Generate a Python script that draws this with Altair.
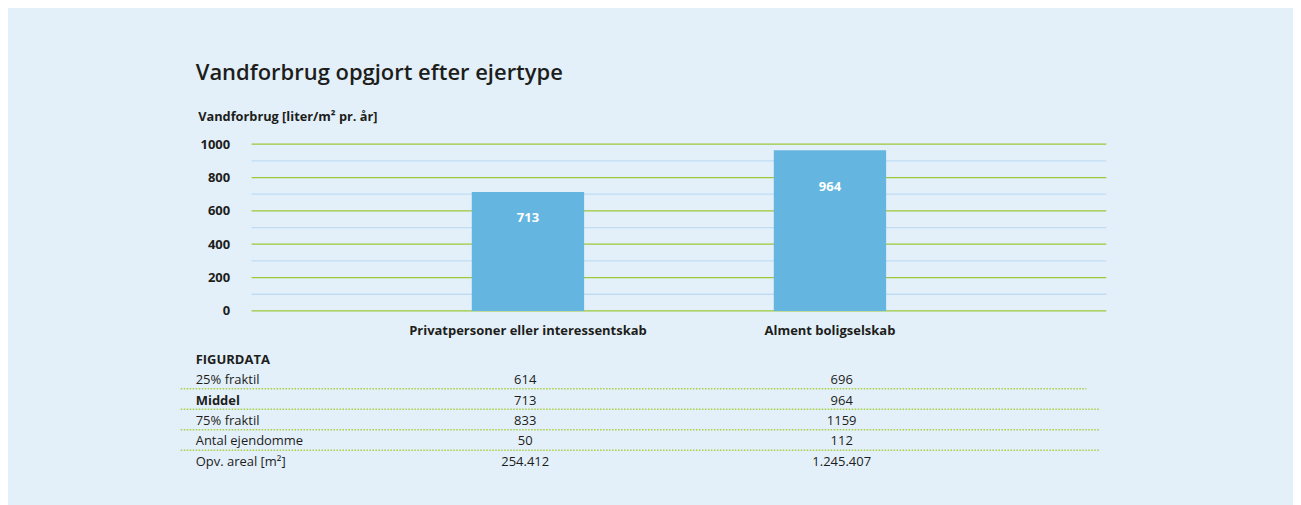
import altair as alt
import pandas as pd

# ---------------- data ----------------
categories = ["Privatpersoner eller interessentskab", "Alment boligselskab"]
middel = [713, 964]
y_ticks = [0, 200, 400, 600, 800, 1000]
grid_values = [0, 100, 200, 300, 400, 500, 600, 700, 800, 900, 1000]

table_rows = ["FIGURDATA", "25% fraktil", "Middel", "75% fraktil",
              "Antal ejendomme", "Opv. areal [m²]"]
col_privat = ["", "614", "713", "833", "50", "254.412"]
col_alment = ["", "696", "964", "1159", "112", "1.245.407"]
bold_rows = ["FIGURDATA", "Middel"]
rule_rows_short = ["25% fraktil"]
rule_rows_long = ["Middel", "75% fraktil", "Antal ejendomme"]

# ---------------- style ----------------
FONT = "Open Sans"
TXT = "#1d1d1b"
BG = "#e3f0f9"
BAR = "#64b6e1"
GREEN = "#9bc93a"
LIGHT = "#bfdcf3"
DOT = "#a6cf45"

bars_df = pd.DataFrame({"kategori": categories, "middel": middel})
grid_df = pd.DataFrame({"v": grid_values})

yscale = alt.Scale(domain=[0, 1000], nice=False, zero=True)
xscale = alt.Scale(type="band", domain=categories, paddingInner=0.628, paddingOuter=0.729)

y_axis = alt.Axis(values=y_ticks, format="d", grid=False, domain=False, ticks=False,
                  labelPadding=22, labelFont=FONT, labelFontSize=13, labelFontWeight="bold",
                  labelColor=TXT, title="Vandforbrug [liter/m² pr. år]", titleAngle=0,
                  titleAlign="left", titleBaseline="alphabetic", titleX=-54, titleY=-24,
                  titleFont=FONT, titleFontSize=12.8, titleFontWeight="bold", titleColor=TXT)
x_axis = alt.Axis(title=None, labelAngle=0, domain=False, ticks=False, labelPadding=24,
                  labelBaseline="alphabetic", labelFont=FONT, labelFontSize=13,
                  labelFontWeight="bold", labelColor=TXT, labelLimit=500)

grid = alt.Chart(grid_df).transform_calculate(
    kind="datum.v % 200 == 0 ? 'major' : 'minor'"
).mark_rule(strokeWidth=1.3).encode(
    y=alt.Y("v:Q", scale=yscale, axis=y_axis),
    color=alt.Color("kind:N", scale=alt.Scale(domain=["major", "minor"], range=[GREEN, LIGHT]),
                    legend=None),
)

bars = alt.Chart(bars_df).mark_bar(color=BAR).encode(
    x=alt.X("kategori:N", scale=xscale, axis=x_axis),
    y=alt.Y("middel:Q", scale=yscale, axis=y_axis),
)

bar_text = alt.Chart(bars_df).transform_calculate(
    pos="datum.middel * 0.745"
).mark_text(color="white", font=FONT, fontSize=13, fontWeight="bold",
            baseline="alphabetic", align="center").encode(
    x=alt.X("kategori:N", scale=xscale, axis=x_axis),
    y=alt.Y("pos:Q", scale=yscale, axis=y_axis),
    text=alt.Text("middel:Q"),
)

top = alt.layer(grid, bars, bar_text).properties(
    width=856, height=167,
    title=alt.TitleParams(text="Vandforbrug opgjort efter ejertype", anchor="start",
                          frame="group", dx=-56, offset=8, font=FONT, fontSize=22,
                          fontWeight=600, color=TXT, baseline="alphabetic"),
)

# ---------------- table ----------------
table_long = pd.DataFrame({
    "row": table_rows * 2,
    "col": [categories[0]] * len(table_rows) + [categories[1]] * len(table_rows),
    "val": col_privat + col_alment,
})
label_df = pd.DataFrame({"row": table_rows})

row_scale = alt.Scale(type="band", domain=table_rows, paddingInner=0, paddingOuter=0)
col_scale = alt.Scale(type="point", domain=categories, range=[274, 591], padding=0)

labels_normal = alt.Chart(label_df).transform_filter(
    ~alt.FieldOneOfPredicate(field="row", oneOf=bold_rows)
).mark_text(align="left", baseline="alphabetic", dy=5.5, font=FONT, fontSize=13,
            color=TXT).encode(
    x=alt.value(-56),
    y=alt.Y("row:N", scale=row_scale, axis=None, bandPosition=0.5),
    text="row:N",
)
labels_bold = alt.Chart(label_df).transform_filter(
    alt.FieldOneOfPredicate(field="row", oneOf=bold_rows)
).mark_text(align="left", baseline="alphabetic", dy=5.5, font=FONT, fontSize=13,
            fontWeight="bold", color=TXT).encode(
    x=alt.value(-56),
    y=alt.Y("row:N", scale=row_scale, axis=None, bandPosition=0.5),
    text="row:N",
)
values = alt.Chart(table_long).mark_text(align="center", baseline="alphabetic", dy=5.5,
                                          font=FONT, fontSize=13, color=TXT).encode(
    x=alt.X("col:N", scale=col_scale, axis=None),
    y=alt.Y("row:N", scale=row_scale, axis=None, bandPosition=0.5),
    text="val:N",
)
rules_short = alt.Chart(pd.DataFrame({"row": rule_rows_short})).mark_rule(
    color=DOT, strokeWidth=1.5, strokeDash=[1.5, 1.5]).encode(
    x=alt.value(-71), x2=alt.value(836),
    y=alt.Y("row:N", scale=row_scale, axis=None, bandPosition=1),
)
rules_long = alt.Chart(pd.DataFrame({"row": rule_rows_long})).mark_rule(
    color=DOT, strokeWidth=1.5, strokeDash=[1.5, 1.5]).encode(
    x=alt.value(-71), x2=alt.value(849),
    y=alt.Y("row:N", scale=row_scale, axis=None, bandPosition=1),
)

table = alt.layer(rules_short, rules_long, labels_normal, labels_bold, values).properties(
    width=856, height=123)

chart = alt.vconcat(top, table, spacing=37, bounds="flush").properties(
    padding={"left": 172, "top": 54, "right": 186, "bottom": 40}
).configure(background=BG, font=FONT).configure_view(strokeWidth=0)

chart.save("out.html", embed_options={"renderer": "svg", "actions": False})
